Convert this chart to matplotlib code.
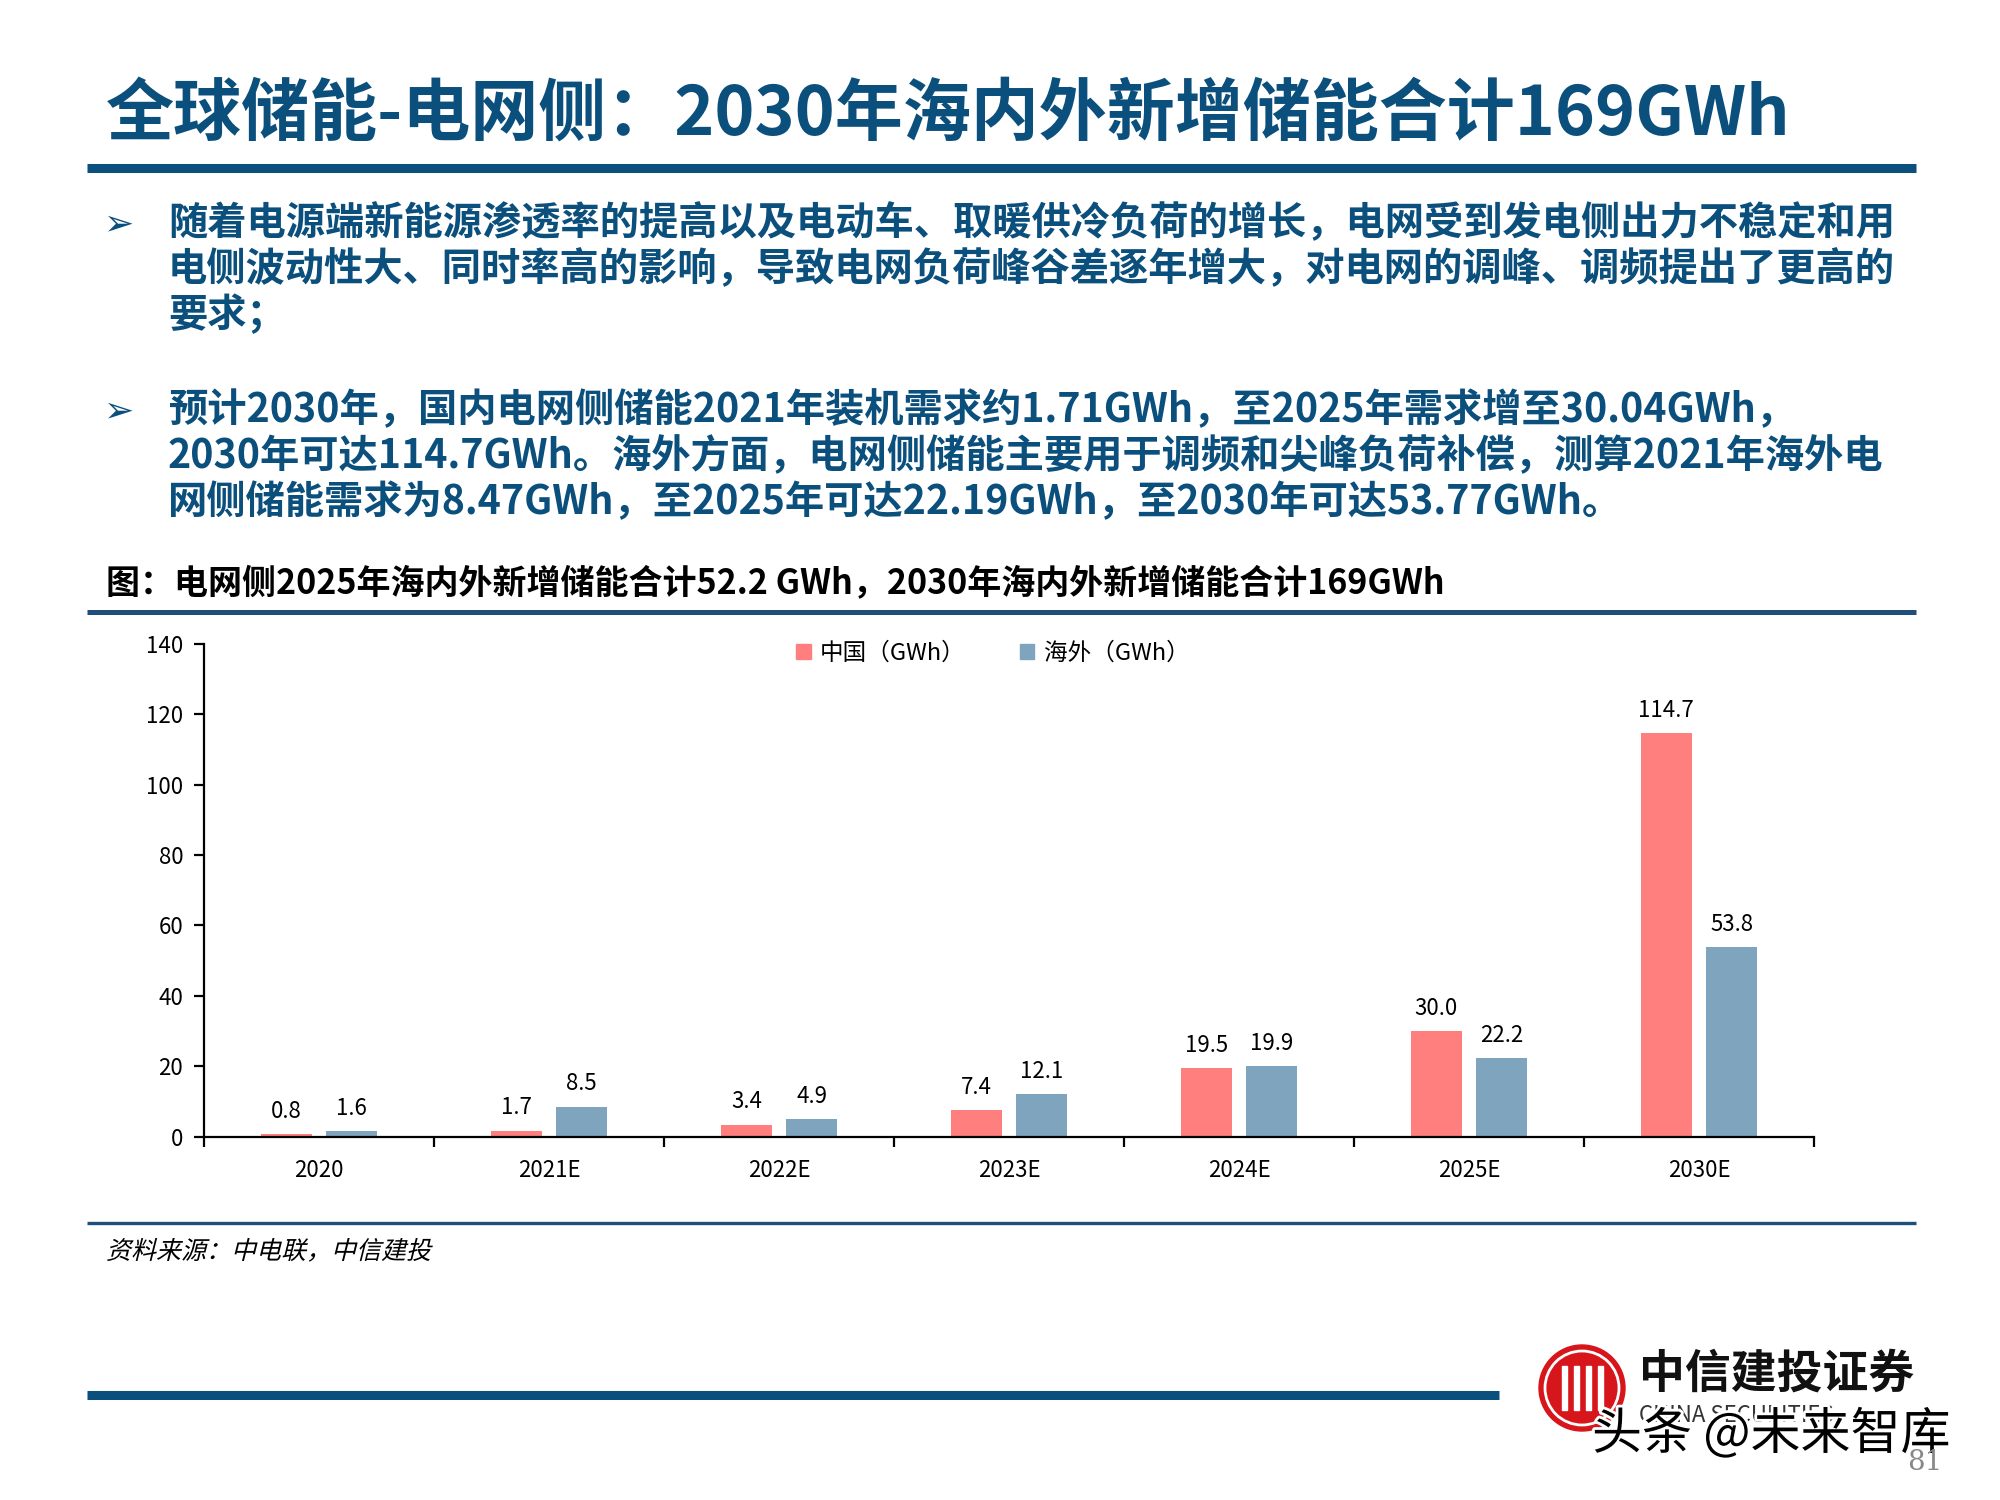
import matplotlib
matplotlib.use("Agg")
import matplotlib.pyplot as plt
from matplotlib.patches import Patch, Ellipse, Rectangle, PathPatch
from matplotlib.lines import Line2D
from matplotlib.textpath import TextPath
from matplotlib.font_manager import FontProperties
from matplotlib.transforms import Affine2D, IdentityTransform
import matplotlib.patheffects as pe

plt.rcParams['font.family'] = ['Noto Sans CJK SC', 'DejaVu Sans']

# data
categories = ["2020", "2021E", "2022E", "2023E", "2024E", "2025E", "2030E"]
china = [0.8, 1.7, 3.4, 7.4, 19.5, 30.0, 114.7]
overseas = [1.6, 8.5, 4.9, 12.1, 19.9, 22.2, 53.8]
series_names = ["中国（GWh）", "海外（GWh）"]
y_ticks = [0, 20, 40, 60, 80, 100, 120, 140]

title = "全球储能-电网侧：2030年海内外新增储能合计169GWh"
bullet1 = ["随着电源端新能源渗透率的提高以及电动车、取暖供冷负荷的增长，电网受到发电侧出力不稳定和用",
           "电侧波动性大、同时率高的影响，导致电网负荷峰谷差逐年增大，对电网的调峰、调频提出了更高的",
           "要求；"]
bullet2 = ["预计2030年，国内电网侧储能2021年装机需求约1.71GWh，至2025年需求增至30.04GWh，",
           "2030年可达114.7GWh。海外方面，电网侧储能主要用于调频和尖峰负荷补偿，测算2021年海外电",
           "网侧储能需求为8.47GWh，至2025年可达22.19GWh，至2030年可达53.77GWh。"]
fig_title = "图：电网侧2025年海内外新增储能合计52.2 GWh，2030年海内外新增储能合计169GWh"
source = "资料来源：中电联，中信建投"

red = "#FF7F7F"
blue = "#7FA4BE"
navy = "#0B4F7D"

W, H = 2000, 1500
fig = plt.figure(figsize=(20, 15), dpi=100)


def fx(x):
    return x / W


def fy(y):
    return 1 - y / H


def hline(x0, x1, y, lw, color):
    fig.add_artist(Line2D([fx(x0), fx(x1)], [fy(y), fy(y)], lw=lw, color=color,
                          transform=fig.transFigure, solid_capstyle="butt"))


# header
fig.text(fx(106), fy(115), title, fontsize=49, fontweight="bold", color=navy, va="center")
hline(87, 1916, 167.5, 6.5, navy)

# bullets
for lines, y0 in [(bullet1, 224), (bullet2, 411)]:
    fig.text(fx(119), fy(y0), "➢", fontsize=26, color=navy, va="center", ha="center",
             family="DejaVu Sans")
    for i, line in enumerate(lines):
        fig.text(fx(168), fy(y0 + i * 46), line, fontsize=28.3, fontweight="bold",
                 color=navy, va="center")

fig.text(fx(106), fy(583), fig_title, fontsize=24.5, fontweight="bold", color="black", va="center")
hline(87, 1916, 612, 3.6, "#1F4E79")

# chart
ax = fig.add_axes([fx(204), fy(1136.5), fx(1814 - 204), (1136.5 - 644) / H])
x = list(range(len(categories)))
bw = 0.222
off = 0.142
b1 = ax.bar([i - off for i in x], china, width=bw, color=red)
b2 = ax.bar([i + off for i in x], overseas, width=bw, color=blue)
ax.bar_label(b1, fmt="%.1f", padding=8, fontsize=16)
ax.bar_label(b2, fmt="%.1f", padding=8, fontsize=16)

ax.set_xlim(-0.5, len(categories) - 0.5)
ax.set_ylim(0, 140)
ax.set_yticks(y_ticks)
ax.set_xticks(x)
ax.set_xticklabels(categories)
ax.set_xticks([i - 0.5 for i in range(len(categories) + 1)], minor=True)
ax.tick_params(axis="x", which="major", length=0, pad=16, labelsize=16)
ax.tick_params(axis="x", which="minor", length=7, width=1.6, direction="out")
ax.tick_params(axis="y", length=7, width=1.6, direction="out", labelsize=16, pad=8)
for s in ["top", "right"]:
    ax.spines[s].set_visible(False)
for s in ["left", "bottom"]:
    ax.spines[s].set_linewidth(1.6)

handles = [Patch(color=red), Patch(color=blue)]
ax.legend(handles, series_names, loc="center", bbox_to_anchor=(0.49, 0.982), ncol=2,
          frameon=False, fontsize=17, handlelength=0.6, handleheight=0.6,
          handletextpad=0.4, columnspacing=2.3)

hline(87, 1916, 1223, 2.4, "#1F4E79")
# italic source line (CJK font has no italic, so shear the glyph outlines)
tp = TextPath((0, 0), source, size=25, prop=FontProperties(family="Noto Sans CJK SC"))
tr = Affine2D().skew_deg(14, 0).translate(106, H - 1250 - 9)
fig.add_artist(PathPatch(tr.transform_path(tp), color="black", lw=0,
                         transform=IdentityTransform()))

# footer
hline(87, 1499, 1395, 6.5, navy)
fig.add_artist(Ellipse((fx(1582), fy(1388)), 86 / W, 86 / H, color="#D7161B",
                       transform=fig.transFigure))
fig.add_artist(Ellipse((fx(1582), fy(1388)), 74 / W, 74 / H, fill=False, ec="white", lw=2,
                       transform=fig.transFigure))
for dx in (-18, -6, 6, 18):
    fig.add_artist(Rectangle((fx(1582 + dx - 2.5), fy(1410)), 5 / W, 44 / H, color="white",
                             transform=fig.transFigure))
fig.text(fx(1639), fy(1375), "中信建投证券", fontsize=33, fontweight="black", color="#111111",
         va="center")
fig.text(fx(1639), fy(1415), "CHINA SECURITIES", fontsize=16, color="#333333", va="center")
fig.text(fx(1592), fy(1435), "头条 @未来智库", fontsize=36, color="black", va="center",
         fontweight="light",
         path_effects=[pe.withStroke(linewidth=4, foreground="white")])
fig.text(fx(1907), fy(1463), "81", fontsize=20, color="#888888", va="center",
         family="DejaVu Serif")

fig.savefig("out.png", dpi=100)
